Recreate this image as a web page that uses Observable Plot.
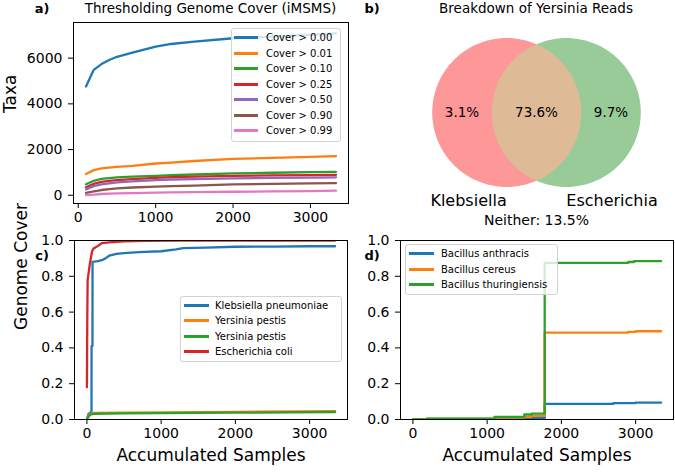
<!DOCTYPE html>
<html><head><meta charset="utf-8">
<script src="https://cdn.jsdelivr.net/npm/d3@7"></script>
<script src="https://cdn.jsdelivr.net/npm/@observablehq/plot@0.6"></script>
<style>
body{margin:0;background:#fff;}
#root{position:relative;width:675px;height:472px;font-family:"DejaVu Sans",sans-serif;overflow:hidden;background:#fff;color:#000}
.txt{position:absolute;white-space:nowrap;transform:translate(-50%,-50%)}
.ttl{font-size:13.5px}
.pl{font-weight:bold;font-size:13px}
.leg{position:absolute;background:rgba(255,255,255,0.8);border:1px solid #d3d3d3;border-radius:3px;font-size:10px;box-sizing:border-box}
.row{position:absolute;white-space:nowrap;transform:translateY(-50%);line-height:12px}
.sw{position:absolute;height:3px}
#root svg text{font-family:"DejaVu Sans",sans-serif}
</style></head><body><div id="root"></div>
<script>
// ---------- data ----------
// panel a
const coverLabels = ["Cover > 0.00","Cover > 0.01","Cover > 0.10","Cover > 0.25","Cover > 0.50","Cover > 0.90","Cover > 0.99"];
const samplesA = [100,200,300,400,500,700,1000,1200,1500,2000,2500,3000,3330];
const cover000 = [4760,5490,5740,5920,6060,6245,6500,6620,6720,6870,6940,7025,7085];
const cover001 = [930,1100,1175,1210,1245,1290,1390,1430,1500,1590,1635,1680,1710];
const cover010 = [480,635,720,750,785,815,850,880,910,955,985,1010,1025];
const cover025 = [350,500,590,630,665,710,765,790,815,850,870,885,895];
const cover050 = [260,400,480,520,565,610,665,690,710,740,760,775,785];
const cover090 = [110,170,230,270,300,340,375,400,425,475,500,520,535];
const cover099 = [10,25,55,70,80,95,115,125,135,155,170,185,200];
const coverSeries = [cover000,cover001,cover010,cover025,cover050,cover090,cover099];
const aTicksX = [0,1000,2000,3000];
const aTicksY = [0,2000,4000,6000];

// panel b
const vennSets = ["Klebsiella","Escherichia"];
const vennRegions = ["Klebsiella only","Both","Escherichia only"];
const vennPct = [3.1, 73.6, 9.7];
const neitherPct = 13.5;

// panel c
const cLabels = ["Klebsiella pneumoniae","Yersinia pestis","Yersinia pestis ","Escherichia coli"];
const kpnX = [0,20,50,62,63,75,76,150,200,250,300,400,500,700,1000,1200,1300,1600,2000,2500,3000,3343];
const kpnY = [0.0,0.03,0.04,0.04,0.41,0.41,0.88,0.885,0.89,0.90,0.915,0.925,0.93,0.935,0.94,0.95,0.957,0.96,0.965,0.966,0.968,0.968];
const yp1X = [0,20,50,100,500,1000,2000,3343];
const yp1Y = [0.0,0.02,0.033,0.037,0.038,0.040,0.043,0.046];
const yp2X = [0,20,50,100,500,1000,2000,3343];
const yp2Y = [0.0,0.015,0.028,0.032,0.034,0.036,0.038,0.042];
const ecoX = [0,5,10,40,70,90,150,200,300,500,800,1200,3343];
const ecoY = [0.18,0.55,0.78,0.87,0.94,0.955,0.97,0.985,0.99,0.995,0.998,1.0,1.0];
const cSeries = [[kpnX,kpnY],[yp1X,yp1Y],[yp2X,yp2Y],[ecoX,ecoY]];

// panel d
const dLabels = ["Bacillus anthracis","Bacillus cereus","Bacillus thuringiensis"];
const banX = [0,190,1100,1500,1775,2700,3000,3343];
const banY = [0,0.004,0.006,0.008,0.087,0.092,0.094,0.094];
const bceX = [0,190,1100,1500,1600,1775,2900,3000,3343];
const bceY = [0,0.004,0.01,0.015,0.02,0.485,0.49,0.493,0.493];
const bthX = [0,190,1100,1500,1600,1775,2900,2980,3343];
const bthY = [0,0.005,0.015,0.028,0.033,0.875,0.88,0.885,0.885];
const dSeries = [[banX,banY],[bceX,bceY],[bthX,bthY]];
const cdTicksX = [0,1000,2000,3000];
const cdTicksY = [0,0.2,0.4,0.6,0.8,1.0];

const tab10 = ["#1f77b4","#ff7f0e","#2ca02c","#d62728","#9467bd","#8c564b","#e377c2"];

// ---------- helpers ----------
const root = document.getElementById("root");
function place(el, left, top){ el.style.position="absolute"; el.style.left=left+"px"; el.style.top=top+"px"; root.appendChild(el); }
function label(text, x, y, cls){ const d=document.createElement("div"); d.className="txt "+cls; d.textContent=text; d.style.left=x+"px"; d.style.top=y+"px"; root.appendChild(d); }
function legend(labels, colors, left, top, width, height, firstRow, step, lineX, lineW, textX){
  const box=document.createElement("div"); box.className="leg";
  box.style.left=left+"px"; box.style.top=top+"px"; box.style.width=width+"px"; box.style.height=height+"px";
  labels.forEach((l,i)=>{
    const c = firstRow+step*i;
    const sw=document.createElement("div"); sw.className="sw"; sw.style.background=colors[i];
    sw.style.left=lineX+"px"; sw.style.width=lineW+"px"; sw.style.top=(Math.round(c)-2)+"px"; box.appendChild(sw);
    const t=document.createElement("div"); t.className="row"; t.textContent=l.trim();
    t.style.left=textX+"px"; t.style.top=c+"px"; box.appendChild(t);
  });
  root.appendChild(box);
}
const baseStyle = {fontFamily:"DejaVu Sans", fontSize:"13px", background:"transparent", color:"black", overflow:"visible"};
const fmtInt = d3.format("d"), fmt1 = d3.format(".1f");
const axOpts = {tickSize:5, tickPadding:6, fontSize:14, label:null, stroke:"black", fill:"black"};

// ---------- panel a ----------
const aRows = coverLabels.flatMap((lab,i)=>samplesA.map((x,j)=>({x, y:coverSeries[i][j], s:lab})));
const pa = Plot.plot({
  width:350, height:225, marginLeft:73, marginRight:2, marginTop:22, marginBottom:22,
  style:baseStyle,
  x:{domain:[-61.5,3491.5]},
  y:{domain:[-360,7560]},
  color:{domain:coverLabels, range:tab10},
  marks:[
    Plot.line(aRows,{x:"x", y:"y", z:"s", stroke:"s", strokeWidth:2.3, clip:true}),
    Plot.frame({stroke:"black", strokeWidth:1}),
    Plot.axisX({...axOpts, ticks:aTicksX, tickFormat:fmtInt, tickPadding:4}),
    Plot.axisY({...axOpts, ticks:aTicksY, tickFormat:fmtInt}),
    Plot.text(["Taxa"],{frameAnchor:"left", text:d=>d, rotate:-90, dx:-63, fontSize:17})
  ]
});
place(pa, 0, 0);

// ---------- panel b (Venn) ----------
const R = 1, half = 0.4; // unit circles, centers at ±half
const unit = 74.5, bW = 275, bH = 207, bCx = 136, bCy = 87;
function circle(cx){ return d3.range(0,361,3).map(a=>({x:cx+R*Math.cos(a*Math.PI/180), y:R*Math.sin(a*Math.PI/180)})); }
const alpha = Math.acos(half/R);
const lens = [
  ...d3.range(-alpha, alpha+1e-9, alpha/40).map(t=>({x:-half+R*Math.cos(t), y:R*Math.sin(t)})),
  ...d3.range(Math.PI-alpha, Math.PI+alpha+1e-9, alpha/40).map(t=>({x:half+R*Math.cos(t), y:R*Math.sin(t)}))
];
const regionX = [(-half-R + half-R)/2, 0, (half+R + (-half+R))/2];
const pctRows = vennRegions.map((r,i)=>({x:regionX[i], y:0, t:vennPct[i].toFixed(1)+"%"}));
const setRows = vennSets.map((s,i)=>({x:i===0?-half:half, y:-(R+0.18), t:s, a:i===0?"end":"start"}));
const pb = Plot.plot({
  width:bW, height:bH, margin:0,
  style:baseStyle,
  x:{domain:[-bCx/unit, (bW-bCx)/unit], axis:null},
  y:{domain:[-(bH-bCy)/unit, bCy/unit], axis:null},
  marks:[
    Plot.line(circle(-half),{x:"x", y:"y", fill:"#fe9797", stroke:"none"}),
    Plot.line(circle(half),{x:"x", y:"y", fill:"#99cb99", stroke:"none"}),
    Plot.line(lens,{x:"x", y:"y", fill:"#dfba97", stroke:"none"}),
    Plot.text(pctRows,{x:"x", y:"y", text:"t", fontSize:13.5, fill:"black"}),
    Plot.text(setRows.filter(d=>d.a==="end"),{x:"x", y:"y", text:"t", textAnchor:"end", fontSize:16, fill:"black"}),
    Plot.text(setRows.filter(d=>d.a==="start"),{x:"x", y:"y", text:"t", textAnchor:"start", fontSize:16, fill:"black"}),
    Plot.text([`Neither: ${neitherPct.toFixed(1)}%`],{x:()=>0, y:()=>-1.45, text:d=>d, fontSize:14, fill:"black"})
  ]
});
place(pb, 400, 25);

// ---------- panel c ----------
const cRows = cLabels.flatMap((lab,i)=>cSeries[i][0].map((x,j)=>({x, y:cSeries[i][1][j], s:lab})));
const pc = Plot.plot({
  width:350, height:242, marginLeft:74, marginRight:3, marginTop:10, marginBottom:53,
  style:baseStyle,
  x:{domain:[-167,3510]},
  y:{domain:[0,1]},
  color:{domain:cLabels, range:[tab10[0],tab10[1],tab10[2],tab10[3]]},
  marks:[
    Plot.line(cRows,{x:"x", y:"y", z:"s", stroke:"s", strokeWidth:2.3, clip:true}),
    Plot.frame({stroke:"black", strokeWidth:1}),
    Plot.axisX({...axOpts, ticks:cdTicksX, tickFormat:fmtInt, tickPadding:4}),
    Plot.axisY({...axOpts, ticks:cdTicksY, tickFormat:fmt1}),
    Plot.text(["Genome Cover"],{frameAnchor:"left", text:d=>d, rotate:-90, dx:-53, fontSize:17}),
    Plot.text(["Accumulated Samples"],{frameAnchor:"bottom", text:d=>d, dy:41, fontSize:17})
  ]
});
place(pc, 0, 230);

// ---------- panel d ----------
const dRows = dLabels.flatMap((lab,i)=>dSeries[i][0].map((x,j)=>({x, y:dSeries[i][1][j], s:lab})));
const pd = Plot.plot({
  width:325, height:242, marginLeft:50, marginRight:2, marginTop:10, marginBottom:53,
  style:baseStyle,
  x:{domain:[-167,3510]},
  y:{domain:[0,1]},
  color:{domain:dLabels, range:[tab10[0],tab10[1],tab10[2]]},
  marks:[
    Plot.line(dRows,{x:"x", y:"y", z:"s", stroke:"s", strokeWidth:2.3, curve:"step-after", clip:true}),
    Plot.frame({stroke:"black", strokeWidth:1}),
    Plot.axisX({...axOpts, ticks:cdTicksX, tickFormat:fmtInt, tickPadding:4}),
    Plot.axisY({...axOpts, ticks:cdTicksY, tickFormat:fmt1}),
    Plot.text(["Accumulated Samples"],{frameAnchor:"bottom", text:d=>d, dy:41, fontSize:17})
  ]
});
place(pd, 350, 230);

// ---------- titles, panel labels, legends ----------
label("Thresholding Genome Cover (iMSMS)", 210.5, 8, "ttl");
label("Breakdown of Yersinia Reads", 536, 8, "ttl");
label("a)", 42, 8, "pl");
label("b)", 372, 8, "pl");
label("c)", 42, 255, "pl");
label("d)", 372, 255, "pl");
legend(coverLabels, tab10, 231, 28, 110, 114, 9.3, 15.5, 2, 24, 34);
legend(cLabels, tab10.slice(0,4), 180, 296, 162, 66, 8.7, 15.4, 3, 25, 34);
legend(dLabels, tab10.slice(0,3), 405, 244, 153, 51, 9.3, 15.4, 3, 25, 35);
</script></body></html>
